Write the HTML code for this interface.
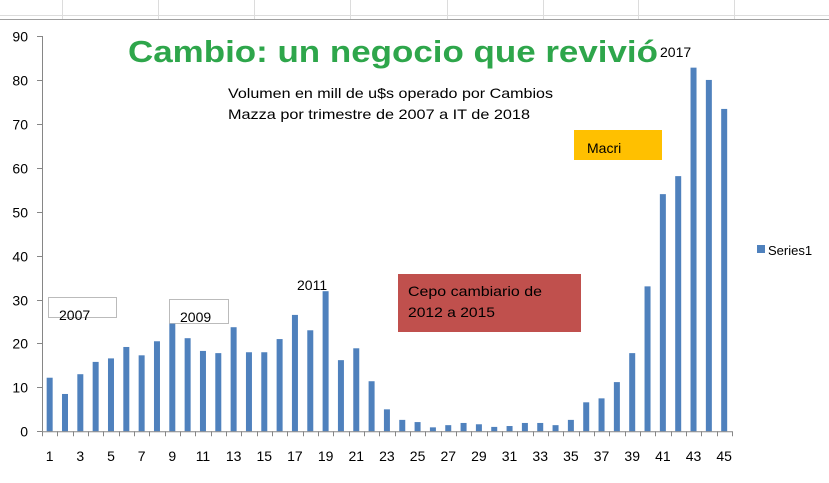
<!DOCTYPE html><html><head><meta charset="utf-8"><style>
body{margin:0;width:829px;height:483px;background:#fff;overflow:hidden;font-family:"Liberation Sans",sans-serif}
svg{position:absolute;left:0;top:0}
</style></head><body>
<svg width="829" height="483" xmlns="http://www.w3.org/2000/svg">
<g stroke="#dcdcdc" stroke-width="1">
<line x1="0" y1="15.5" x2="829" y2="15.5"/>
<line x1="62.5" y1="0" x2="62.5" y2="19"/><line x1="158.5" y1="0" x2="158.5" y2="19"/><line x1="254.5" y1="0" x2="254.5" y2="19"/><line x1="350.5" y1="0" x2="350.5" y2="19"/><line x1="447.5" y1="0" x2="447.5" y2="19"/><line x1="543.5" y1="0" x2="543.5" y2="19"/><line x1="638.5" y1="0" x2="638.5" y2="19"/><line x1="734.5" y1="0" x2="734.5" y2="19"/>
</g>
<line x1="0" y1="19.5" x2="829" y2="19.5" stroke="#a0a0a0" stroke-width="1"/>
<text x="128" y="62" font-size="31" font-weight="bold" fill="#2ea64b" textLength="530" lengthAdjust="spacingAndGlyphs">Cambio: un negocio que revivió</text>
<text x="660" y="57" font-size="14" fill="#000">2017</text>
<text x="228" y="98" font-size="14" fill="#000" textLength="325" lengthAdjust="spacingAndGlyphs">Volumen en mill de u$s operado por Cambios</text>
<text x="228" y="119" font-size="14" fill="#000" textLength="302" lengthAdjust="spacingAndGlyphs">Mazza por trimestre de 2007 a IT de 2018</text>
<rect x="574" y="130" width="88" height="30" fill="#ffc000"/>
<text x="587" y="153" font-size="14">Macri</text>
<rect x="398" y="274" width="183" height="58" fill="#c0504d"/>
<text x="408" y="296" font-size="14" textLength="134" lengthAdjust="spacingAndGlyphs">Cepo cambiario de</text>
<text x="408" y="317" font-size="14" textLength="87" lengthAdjust="spacingAndGlyphs">2012 a 2015</text>
<rect x="48.5" y="297.5" width="68" height="20" fill="none" stroke="#bbb"/>
<rect x="169.5" y="299.5" width="59" height="24" fill="none" stroke="#bbb"/>
<text x="59" y="320" font-size="14">2007</text>
<text x="180" y="322" font-size="14">2009</text>
<text x="297" y="290" font-size="14">2011</text>
<g id="bars" fill="#4f81bd"></g>
<g stroke="#868686" stroke-width="1" id="ax"></g>
<g font-size="14" fill="#000" id="lbl"></g>
<rect x="757" y="245" width="8" height="8" fill="#4f81bd"/>
<text x="768" y="255" font-size="13">Series1</text>
</svg>
<script>
var v=[12.2,8.5,13,15.8,16.6,19.2,17.3,20.5,24.5,21.2,18.3,17.8,23.7,18,18,21,26.5,23,31.9,16.2,18.9,11.4,5,2.6,2.1,0.9,1.4,1.9,1.6,1,1.2,1.9,1.9,1.4,2.6,6.6,7.5,11.2,17.8,33,54,58.1,82.8,80,73.4];
var ns="http://www.w3.org/2000/svg",y0=431.3,k=4.392,x0=42,w=15.33;
function el(t,a,p){var e=document.createElementNS(ns,t);for(var i in a)e.setAttribute(i,a[i]);document.getElementById(p).appendChild(e);return e;}
v.forEach(function(d,i){var c=x0+w*(i+0.5);el('rect',{x:c-3,y:y0-d*k,width:6,height:d*k},'bars');
if(i%2==0){var t=el('text',{x:c,y:461,'text-anchor':'middle'},'lbl');t.textContent=i+1;}});
el('line',{x1:42.5,y1:36,x2:42.5,y2:y0},'ax');
el('line',{x1:42,y1:y0+0.5,x2:732,y2:y0+0.5},'ax');
for(var i=0;i<=45;i++){var x=Math.round(x0+w*i)+0.5;el('line',{x1:x,y1:y0,x2:x,y2:y0+5},'ax');}
for(var j=0;j<=9;j++){var y=Math.round(y0-j*10*k)+0.5;el('line',{x1:37,y1:y,x2:42,y2:y},'ax');var t=el('text',{x:28,y:y+5,'text-anchor':'end'},'lbl');t.textContent=j*10;}
</script>
</body></html>
